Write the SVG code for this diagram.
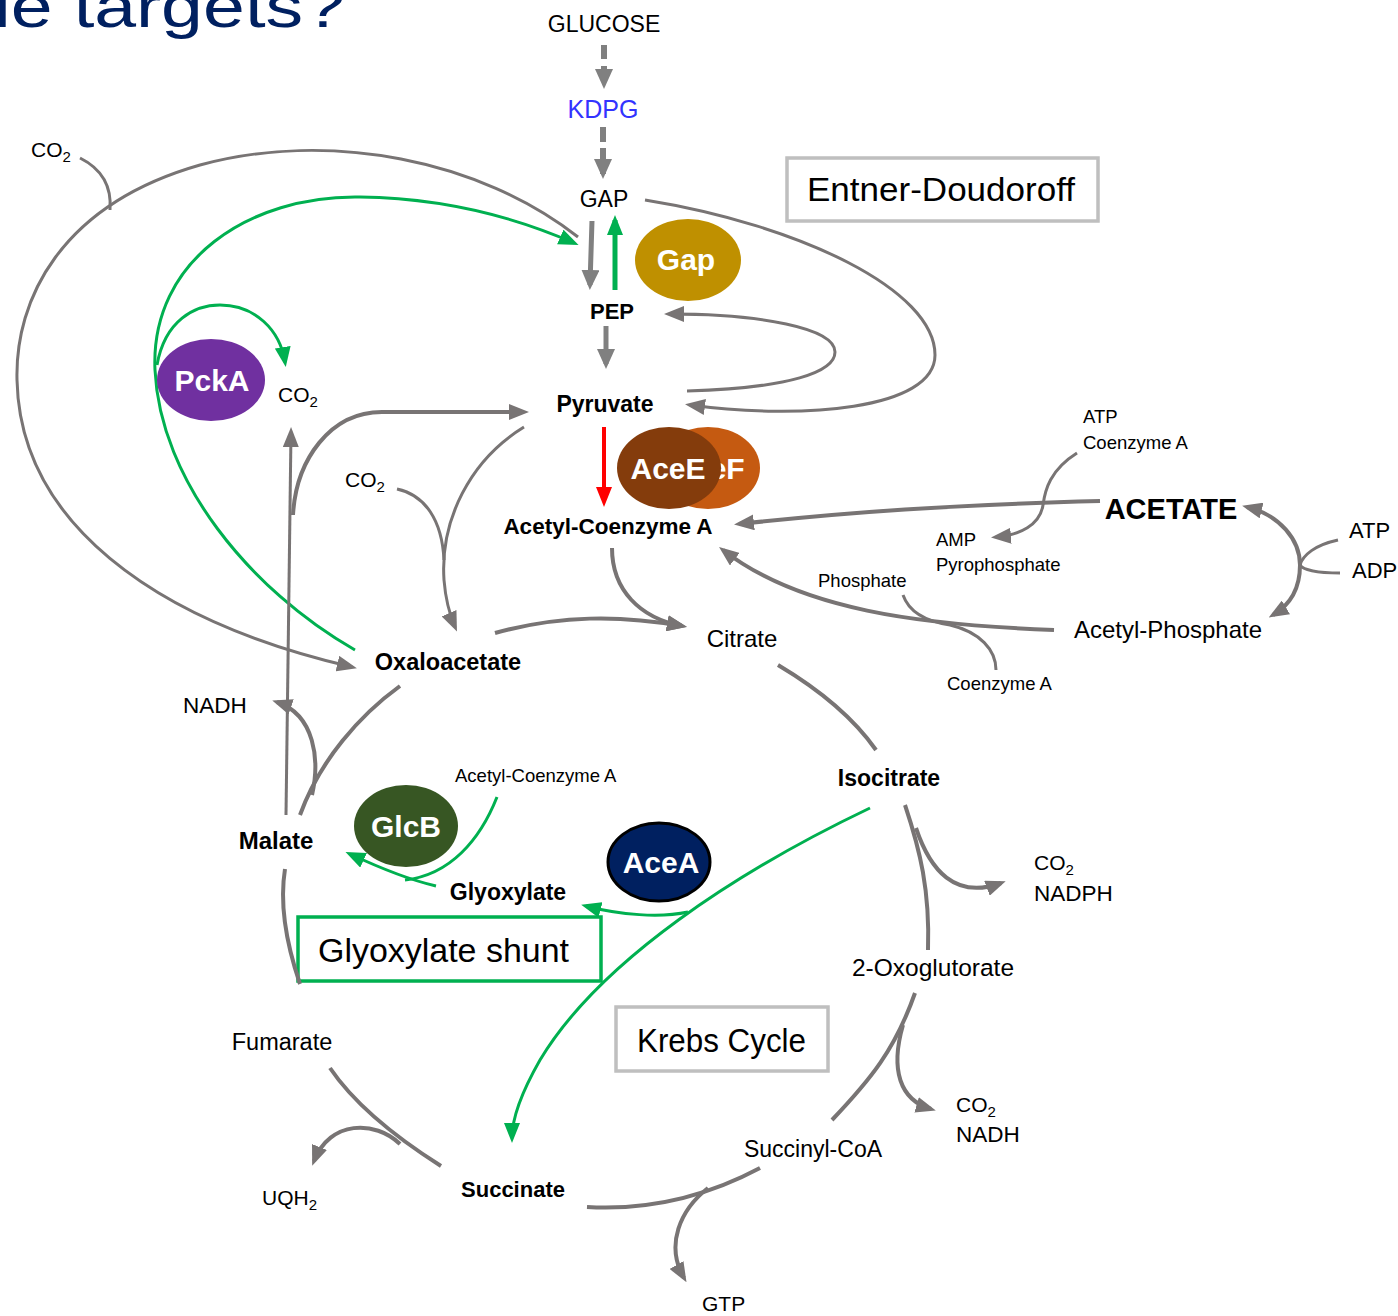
<svg xmlns="http://www.w3.org/2000/svg" width="1398" height="1316" viewBox="0 0 1398 1316">
<defs>
<style>
text{font-family:"Liberation Sans",Arial,sans-serif;fill:#000}
.r{font-size:23px}
.b{font-size:23px;font-weight:bold}
.s{font-size:18.5px}
.e{font-size:30px;font-weight:bold;fill:#fff}
.sub{font-size:15px}
.g{fill:none;stroke:#787474;stroke-width:3}
.g4{fill:none;stroke:#787474;stroke-width:4}
.gr{fill:none;stroke:#00B050;stroke-width:3}
.box{fill:#fff;stroke:#BFBFBF;stroke-width:3.5}
</style>
<marker id="ag" markerWidth="20" markerHeight="16" refX="15" refY="8" orient="auto-start-reverse" markerUnits="userSpaceOnUse"><path d="M0,0 L20,8 L0,16 z" fill="#787474"/></marker>
<marker id="agd" markerWidth="20" markerHeight="18" refX="15" refY="9" orient="auto" markerUnits="userSpaceOnUse"><path d="M0,0 L20,9 L0,18 z" fill="#808080"/></marker>
<marker id="agn" markerWidth="20" markerHeight="16" refX="15" refY="8" orient="auto" markerUnits="userSpaceOnUse"><path d="M0,0 L20,8 L0,16 z" fill="#00B050"/></marker>
<marker id="ard" markerWidth="20" markerHeight="16" refX="15" refY="8" orient="auto" markerUnits="userSpaceOnUse"><path d="M0,0 L20,8 L0,16 z" fill="#FF0000"/></marker>
</defs>
<rect width="1398" height="1316" fill="#fff"/>
<text x="-6" y="27" style="font-size:60px;fill:#002060" textLength="351" lengthAdjust="spacingAndGlyphs">le targets?</text>

<g id="boxes">
<rect class="box" x="787" y="158" width="311" height="63"/>
<text x="807" y="201" style="font-size:33px" textLength="268" lengthAdjust="spacingAndGlyphs">Entner-Doudoroff</text>
<rect class="box" x="616" y="1007" width="212" height="64"/>
<text x="637" y="1052" style="font-size:33px" textLength="169" lengthAdjust="spacingAndGlyphs">Krebs Cycle</text>
<rect x="298" y="917" width="303" height="64" fill="#fff" stroke="#00B050" stroke-width="3.5"/>
<text x="318" y="962" style="font-size:33px" textLength="251" lengthAdjust="spacingAndGlyphs">Glyoxylate shunt</text>
</g>

<g id="connectors">
<!-- glycolysis / ED -->
<line x1="604" y1="45" x2="604" y2="84" stroke="#808080" stroke-width="6" stroke-dasharray="14 7" marker-end="url(#agd)"/>
<line x1="603" y1="127" x2="603" y2="174" stroke="#808080" stroke-width="6" stroke-dasharray="15 6" marker-end="url(#agd)"/>
<line x1="592" y1="221" x2="590" y2="285" stroke="#808080" stroke-width="5" marker-end="url(#agd)"/>
<line x1="615" y1="290" x2="615" y2="220" stroke="#00B050" stroke-width="5" marker-end="url(#agn)"/>
<line x1="606" y1="326" x2="606" y2="364" stroke="#808080" stroke-width="5" marker-end="url(#agd)"/>
<line x1="604" y1="427" x2="604" y2="502" stroke="#FF0000" stroke-width="4" marker-end="url(#ard)"/>
<path class="g" d="M645 200 C800 225 935 290 935 355 C935 410 800 420 690 405" marker-end="url(#ag)"/>
<path class="g" d="M687 391 C790 388 835 372 835 352 C835 328 760 314 669 314" marker-end="url(#ag)"/>
<!-- big arc to oxaloacetate -->
<path class="g" d="M578 237 C480 160 330 130 200 165 C60 205 15 300 17 380 C20 520 150 620 352 667" marker-end="url(#ag)"/>
<path class="g" d="M80 158 C100 168 112 185 110 210"/>
<!-- green PckA -->
<path class="gr" d="M355 650 C250 590 160 480 155 370 C150 260 250 195 360 197 C440 198 510 215 574 243" marker-end="url(#agn)"/>
<path class="gr" d="M157 365 C165 320 195 305 220 305 C255 305 280 330 285 362" marker-end="url(#agn)"/>
<!-- malic enzyme -->
<path class="g" d="M286 815 L291 432" marker-end="url(#ag)"/>
<path class="g4" d="M293 515 C296 460 330 412 382 412 L524 412" marker-end="url(#ag)"/>
<!-- pyruvate carboxylase -->
<path class="g" d="M524 427 C470 460 440 520 444 580 C446 605 452 620 455 627" marker-end="url(#ag)"/>
<path class="g" d="M397 489 C425 495 442 520 444 560"/>
<!-- citrate synthase -->
<path class="g4" d="M612 548 C612 590 640 618 682 626" marker-end="url(#ag)"/>
<path class="g4" d="M495 633 C560 615 620 615 682 626" marker-end="url(#ag)"/>
<!-- krebs -->
<path class="g4" d="M778 665 C820 690 855 720 876 750"/>
<path class="g4" d="M905 805 C920 850 930 890 928 950"/>
<path class="g4" d="M916 828 C930 870 955 900 1001 883" marker-end="url(#ag)"/>
<path class="g4" d="M915 993 C895 1050 870 1080 832 1120"/>
<path class="g4" d="M903 1025 C890 1070 900 1100 931 1109" marker-end="url(#ag)"/>
<path class="g4" d="M760 1168 C700 1200 640 1210 587 1207"/>
<path class="g4" d="M708 1188 C680 1210 665 1245 684 1278" marker-end="url(#ag)"/>
<path class="g4" d="M441 1166 C400 1140 355 1105 330 1068"/>
<path class="g4" d="M400 1144 C375 1120 330 1120 314 1161" marker-end="url(#ag)"/>
<path class="g4" d="M300 984 C285 940 280 900 285 869"/>
<path class="g4" d="M300 815 C320 760 360 715 400 686"/>
<path class="g4" d="M312 795 C320 760 315 715 277 702" marker-end="url(#ag)"/>
<!-- glyoxylate shunt -->
<path class="gr" d="M870 808 C740 870 600 960 540 1060 C520 1095 512 1120 512 1138" marker-end="url(#agn)"/>
<path class="gr" d="M688 912 C660 918 620 915 586 906" marker-end="url(#agn)"/>
<path class="gr" d="M436 886 C410 880 380 868 350 854" marker-end="url(#agn)"/>
<path class="gr" d="M497 797 C480 840 450 875 405 880"/>
<!-- acetate -->
<path class="g4" d="M1100 501 C950 505 850 512 739 524" marker-end="url(#ag)"/>
<path class="g" d="M1077 453 C1050 470 1045 490 1043 505 C1040 525 1020 535 996 537" marker-end="url(#ag)"/>
<path class="g4" d="M1247 507 C1280 515 1300 540 1300 565 C1300 590 1290 605 1273 615" marker-start="url(#ag)" marker-end="url(#ag)"/>
<path class="g" d="M1338 540 C1315 545 1303 555 1300 565"/>
<path class="g" d="M1340 573 C1318 573 1303 570 1300 565"/>
<path class="g4" d="M1054 630 C920 625 800 610 723 550" marker-end="url(#ag)"/>
<path class="g" d="M903 595 C910 615 930 622 950 625 C980 632 996 650 996 670"/>
</g>

<g id="enzymes">
<g id="gap-enz"><ellipse cx="688" cy="260" rx="53" ry="41" fill="#BF9000"/><text class="e" x="686" y="270" text-anchor="middle">Gap</text></g>
<g id="pcka"><ellipse cx="211" cy="380" rx="54" ry="41" fill="#7030A0"/><text class="e" x="212" y="391" text-anchor="middle">PckA</text></g>
<g id="acef"><ellipse cx="708" cy="468" rx="52" ry="41" fill="#C55A11"/><text class="e" x="708" y="479" text-anchor="middle">AceF</text></g>
<g id="acee"><ellipse cx="669" cy="468" rx="52" ry="41" fill="#843C0C"/><text class="e" x="668" y="479" text-anchor="middle">AceE</text></g>
<g id="glcb"><ellipse cx="406" cy="826" rx="52" ry="41" fill="#375623"/><text class="e" x="406" y="837" text-anchor="middle">GlcB</text></g>
<g id="acea"><ellipse cx="659" cy="862" rx="51" ry="39" fill="#002060" stroke="#000" stroke-width="3"/><text class="e" x="661" y="873" text-anchor="middle">AceA</text></g>
</g>

<g id="metabolites">
<text class="r" x="604" y="32" text-anchor="middle">GLUCOSE</text>
<text class="r" x="603" y="118" text-anchor="middle" style="font-size:25px;fill:#3333FF">KDPG</text>
<text class="r" x="604" y="207" text-anchor="middle">GAP</text>
<text class="b" x="612" y="319" text-anchor="middle" style="font-size:22px">PEP</text>
<text class="b" x="605" y="412" text-anchor="middle">Pyruvate</text>
<text class="b" x="608" y="534" text-anchor="middle" style="font-size:22.5px">Acetyl-Coenzyme A</text>
<text class="b" x="1171" y="519" text-anchor="middle" style="font-size:29px">ACETATE</text>
<text class="r" x="1168" y="638" text-anchor="middle" style="font-size:24px">Acetyl-Phosphate</text>
<text class="r" x="742" y="647" text-anchor="middle" style="font-size:24px">Citrate</text>
<text class="b" x="448" y="670" text-anchor="middle" style="font-size:23.5px">Oxaloacetate</text>
<text class="b" x="889" y="786" text-anchor="middle">Isocitrate</text>
<text class="r" x="933" y="976" text-anchor="middle" style="font-size:24.5px">2-Oxoglutorate</text>
<text class="r" x="813" y="1157" text-anchor="middle">Succinyl-CoA</text>
<text class="b" x="513" y="1197" text-anchor="middle" style="font-size:22px">Succinate</text>
<text class="r" x="282" y="1050" text-anchor="middle" style="font-size:23.5px">Fumarate</text>
<text class="b" x="276" y="849" text-anchor="middle" style="font-size:24px">Malate</text>
<text class="b" x="508" y="900" text-anchor="middle">Glyoxylate</text>
</g>

<g id="cofactors">
<text class="r" x="31" y="157" style="font-size:21px">CO<tspan class="sub" dy="5">2</tspan></text>
<text class="r" x="278" y="402" style="font-size:21px">CO<tspan class="sub" dy="5">2</tspan></text>
<text class="r" x="345" y="487" style="font-size:21px">CO<tspan class="sub" dy="5">2</tspan></text>
<text class="r" x="1034" y="870" style="font-size:21px">CO<tspan class="sub" dy="5">2</tspan></text>
<text class="r" x="1034" y="901" style="font-size:22.5px">NADPH</text>
<text class="r" x="956" y="1112" style="font-size:21px">CO<tspan class="sub" dy="5">2</tspan></text>
<text class="r" x="956" y="1142" style="font-size:22.5px">NADH</text>
<text class="r" x="183" y="713" style="font-size:22.5px">NADH</text>
<text class="r" x="262" y="1205" style="font-size:21px">UQH<tspan class="sub" dy="5">2</tspan></text>
<text class="r" x="702" y="1311" style="font-size:21px">GTP</text>
<text class="s" x="1083" y="423">ATP</text>
<text class="s" x="1083" y="449">Coenzyme A</text>
<text class="s" x="936" y="546">AMP</text>
<text class="s" x="936" y="571">Pyrophosphate</text>
<text class="s" x="818" y="587">Phosphate</text>
<text class="s" x="947" y="690">Coenzyme A</text>
<text class="r" x="1349" y="538" style="font-size:22px">ATP</text>
<text class="r" x="1352" y="578" style="font-size:22px">ADP</text>
<text class="s" x="455" y="782">Acetyl-Coenzyme A</text>
</g>
</svg>
